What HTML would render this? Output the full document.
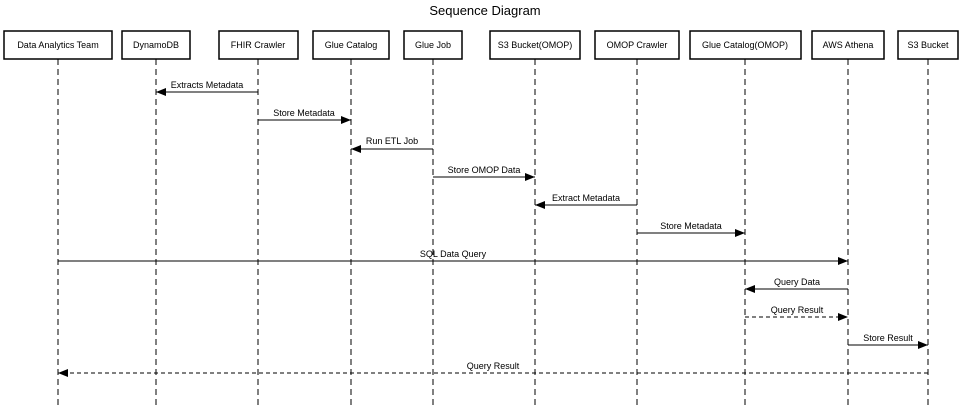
<!DOCTYPE html>
<html><head><style>body{margin:0;background:#fff}svg{display:block}</style></head><body>
<svg width="965" height="408" xmlns="http://www.w3.org/2000/svg" font-family="Liberation Sans, Arial, sans-serif">
<defs><marker id="a" markerWidth="10" markerHeight="8" refX="10" refY="4" orient="auto" markerUnits="userSpaceOnUse"><path d="M0,0 L10,4 L0,8 z" fill="#000"/></marker></defs>
<text x="485" y="15" font-size="13" text-anchor="middle">Sequence Diagram</text>
<g stroke="#000" stroke-width="1" stroke-dasharray="6,4">
<line x1="58" y1="59" x2="58" y2="408"/><line x1="156" y1="59" x2="156" y2="408"/><line x1="258" y1="59" x2="258" y2="408"/><line x1="351" y1="59" x2="351" y2="408"/><line x1="433" y1="59" x2="433" y2="408"/><line x1="535" y1="59" x2="535" y2="408"/><line x1="637" y1="59" x2="637" y2="408"/><line x1="745" y1="59" x2="745" y2="408"/><line x1="848" y1="59" x2="848" y2="408"/><line x1="928" y1="59" x2="928" y2="408"/>
</g>
<g stroke="#000" stroke-width="1.5" fill="#fff">
<rect x="4" y="31" width="108" height="28"/><rect x="122" y="31" width="68" height="28"/><rect x="219" y="31" width="79" height="28"/><rect x="313" y="31" width="76" height="28"/><rect x="404" y="31" width="58" height="28"/><rect x="490" y="31" width="90" height="28"/><rect x="595" y="31" width="84" height="28"/><rect x="690" y="31" width="111" height="28"/><rect x="812" y="31" width="72" height="28"/><rect x="898" y="31" width="60" height="28"/>
</g>
<g font-size="9" text-anchor="middle">
<text x="58" y="48">Data Analytics Team</text><text x="156" y="48">DynamoDB</text><text x="258" y="48">FHIR Crawler</text><text x="351" y="48">Glue Catalog</text><text x="433" y="48">Glue Job</text><text x="535" y="48">S3 Bucket(OMOP)</text><text x="637" y="48">OMOP Crawler</text><text x="745" y="48">Glue Catalog(OMOP)</text><text x="848" y="48">AWS Athena</text><text x="928" y="48">S3 Bucket</text>
</g>
<g stroke="#000" stroke-width="1" marker-end="url(#a)">
<line x1="258" y1="92" x2="156" y2="92"/>
<line x1="258" y1="120" x2="351" y2="120"/>
<line x1="433" y1="149" x2="351" y2="149"/>
<line x1="433" y1="177" x2="535" y2="177"/>
<line x1="637" y1="205" x2="535" y2="205"/>
<line x1="637" y1="233" x2="745" y2="233"/>
<line x1="58" y1="261" x2="848" y2="261"/>
<line x1="848" y1="289" x2="745" y2="289"/>
<line x1="745" y1="317" x2="848" y2="317" stroke-dasharray="4,3"/>
<line x1="848" y1="345" x2="928" y2="345"/>
<line x1="928" y1="373" x2="58" y2="373" stroke-dasharray="4,3"/>
</g>
<g font-size="9" text-anchor="middle">
<text x="207" y="88">Extracts Metadata</text>
<text x="304" y="116">Store Metadata</text>
<text x="392" y="144">Run ETL Job</text>
<text x="484" y="173">Store OMOP Data</text>
<text x="586" y="201">Extract Metadata</text>
<text x="691" y="229">Store Metadata</text>
<text x="453" y="257">SQL Data Query</text>
<text x="797" y="285">Query Data</text>
<text x="797" y="313">Query Result</text>
<text x="888" y="341">Store Result</text>
<text x="493" y="369">Query Result</text>
</g>
</svg>
</body></html>
